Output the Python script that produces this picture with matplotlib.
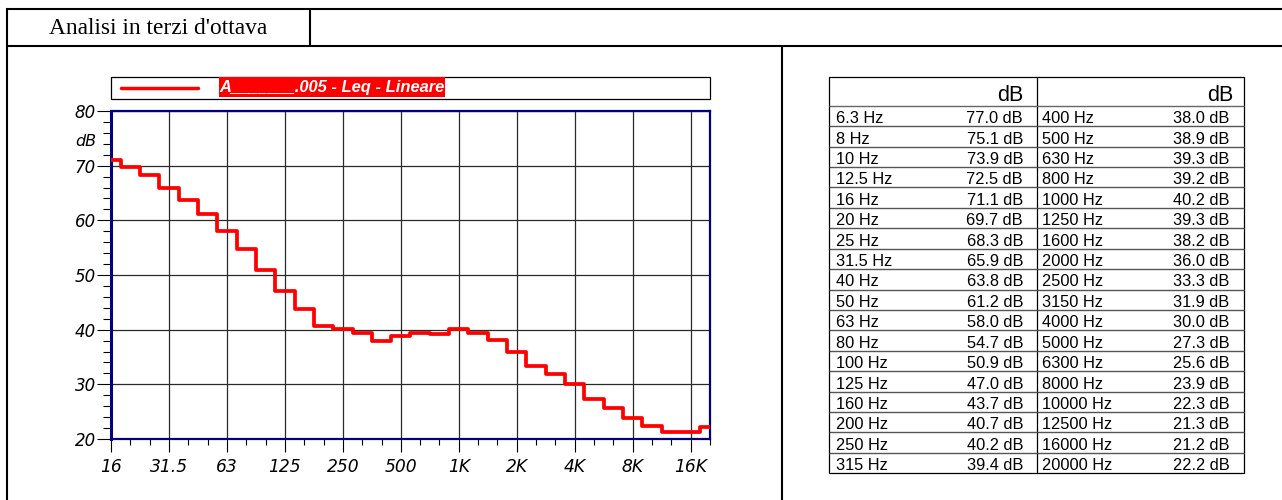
import matplotlib
matplotlib.use("Agg")
import matplotlib.pyplot as plt
from matplotlib.lines import Line2D
from matplotlib.patches import Rectangle
from matplotlib.ticker import FixedLocator, MultipleLocator

# ---------------- data ----------------
table_freqs = ["6.3 Hz", "8 Hz", "10 Hz", "12.5 Hz", "16 Hz", "20 Hz", "25 Hz", "31.5 Hz",
               "40 Hz", "50 Hz", "63 Hz", "80 Hz", "100 Hz", "125 Hz", "160 Hz", "200 Hz",
               "250 Hz", "315 Hz", "400 Hz", "500 Hz", "630 Hz", "800 Hz", "1000 Hz", "1250 Hz",
               "1600 Hz", "2000 Hz", "2500 Hz", "3150 Hz", "4000 Hz", "5000 Hz", "6300 Hz",
               "8000 Hz", "10000 Hz", "12500 Hz", "16000 Hz", "20000 Hz"]
table_values = [77.0, 75.1, 73.9, 72.5, 71.1, 69.7, 68.3, 65.9, 63.8, 61.2, 58.0, 54.7,
                50.9, 47.0, 43.7, 40.7, 40.2, 39.4, 38.0, 38.9, 39.3, 39.2, 40.2, 39.3,
                38.2, 36.0, 33.3, 31.9, 30.0, 27.3, 25.6, 23.9, 22.3, 21.3, 21.2, 22.2]

# chart shows bands 16 Hz .. 20000 Hz
chart_start = table_freqs.index("16 Hz")
chart_values = table_values[chart_start:]
x_tick_labels = ["16", "31.5", "63", "125", "250", "500", "1K", "2K", "4K", "8K", "16K"]
legend_label = "A_______.005 - Leq - Lineare"
title_text = "Analisi in terzi d'ottava"

W, H = 1282, 500
fig = plt.figure(figsize=(W / 100, H / 100), dpi=100)
fig.patch.set_facecolor("white")


def fx(x):
    return x / W


def fy(y):
    return 1 - y / H


def hline(x0, x1, y, lw=1.5, color="black"):
    fig.add_artist(Line2D([fx(x0), fx(x1)], [fy(y), fy(y)], color=color, lw=lw,
                          solid_capstyle="butt"))


def vline(x, y0, y1, lw=1.5, color="black"):
    fig.add_artist(Line2D([fx(x), fx(x)], [fy(y0), fy(y1)], color=color, lw=lw,
                          solid_capstyle="butt"))


# ---------------- frame ----------------
hline(6, W + 5, 8.5)
hline(6, W + 5, 46)
vline(7, 8, H + 5)
vline(310, 8, 46)
vline(782, 46, H + 5)
fig.text(fx(158), fy(28), title_text, family="Liberation Serif", fontsize=16.8,
         ha="center", va="center")

# ---------------- chart ----------------
L, R, T, B = 111, 710, 111, 439
ax = fig.add_axes([fx(L), fy(B), fx(R) - fx(L), (B - T) / H])
idx = list(range(len(chart_values)))
ax.step(idx, chart_values, where="mid", color="#ff0000", lw=2.7, zorder=3)
ax.set_xlim(0, len(chart_values) - 1)
ax.set_ylim(20, 80)

ax.xaxis.set_major_locator(FixedLocator(list(range(0, len(chart_values), 3))))
ax.set_xticklabels(x_tick_labels)
ax.xaxis.set_minor_locator(FixedLocator([i for i in idx if i % 3 != 0]))
ax.yaxis.set_major_locator(MultipleLocator(10))
ax.yaxis.set_minor_locator(MultipleLocator(2))
ax.grid(True, which="major", color="#2a2a2a", lw=0.9)
ax.set_axisbelow(True)
for s in ax.spines.values():
    s.set_color("#000080")
    s.set_linewidth(1.6)
ax.spines["left"].set_linewidth(2.2)
ax.tick_params(axis="y", which="major", direction="out", length=10, width=0.8, pad=1,
               labelsize=12, color="black")
ax.tick_params(axis="y", which="minor", direction="out", length=5.5, width=0.8, color="black")
ax.tick_params(axis="x", which="major", direction="out", length=9.5, width=0.8, pad=4.5,
               labelsize=12.3, color="black")
ax.tick_params(axis="x", which="minor", direction="out", length=4.5, width=0.8, color="black")
for lab in ax.get_xticklabels() + ax.get_yticklabels():
    lab.set_fontstyle("italic")
ax.text(-(L - 96.5) / (R - L), 74.4, "dB", transform=ax.get_yaxis_transform(),
        ha="right", va="center", fontsize=11.5, fontstyle="italic")

# legend box
fig.add_artist(Rectangle((fx(110.5), fy(99)), fx(710) - fx(110.5), (99 - 77) / H,
                         facecolor="white", edgecolor="black", lw=0.9))
fig.add_artist(Line2D([fx(120.5), fx(198)], [fy(88), fy(88)], color="#ff0000", lw=2.5,
                      solid_capstyle="round"))
fig.add_artist(Rectangle((fx(219), fy(97)), fx(445) - fx(219), (97 - 77.5) / H,
                         facecolor="#ff0000", edgecolor="none"))
fig.text(fx(219.5), fy(87.5), legend_label, family="Liberation Sans", fontsize=11.9,
         fontweight="bold", fontstyle="italic", color="white", ha="left", va="center")

# ---------------- table ----------------
TL, TR, TT, TH, TB = 829.5, 1243.5, 77, 105.7, 473.3
TM = 1036.7
nrows = 18
rh = (TB - TH) / nrows
fig.add_artist(Rectangle((fx(TL), fy(TB)), fx(TR) - fx(TL), (TB - TT) / H,
                         facecolor="white", edgecolor="black", lw=0.9))
vline(TM, TT, TB, lw=0.9)
hline(TL, TR, TH, lw=1.0, color="#666666")
fig.text(fx(1023), fy(101), "dB", family="Liberation Sans", fontsize=15.5,
         ha="right", va="baseline")
fig.text(fx(1233), fy(101), "dB", family="Liberation Sans", fontsize=15.5,
         ha="right", va="baseline")
for c in range(2):
    x_left = TL if c == 0 else TM
    x_right = TM if c == 0 else TR
    name_x = 836 if c == 0 else 1042
    val_x = 1023 if c == 0 else 1229.5
    for r in range(nrows):
        k = c * nrows + r
        ybot = TH + (r + 1) * rh
        if r < nrows - 1:
            hline(x_left, x_right, ybot, lw=1.0, color="#555555")
        fig.text(fx(name_x), fy(ybot - 3.0), table_freqs[k], family="Liberation Sans",
                 fontsize=11.8, ha="left", va="baseline")
        fig.text(fx(val_x), fy(ybot - 3.0), f"{table_values[k]:.1f} dB",
                 family="Liberation Sans", fontsize=11.8, ha="right", va="baseline")

fig.savefig("out.png", dpi=100, facecolor="white")
